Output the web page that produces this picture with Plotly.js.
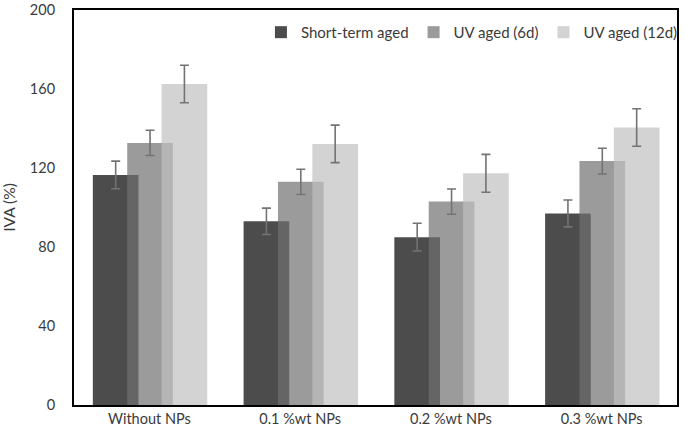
<!DOCTYPE html>
<html>
<head>
<meta charset="utf-8">
<script src="https://cdn.plot.ly/plotly-3.0.1.min.js"></script>
<style>html,body{margin:0;padding:0;background:#fff;}#chart{width:685px;height:433px;}</style>
</head>
<body>
<div id="chart"></div>
<script>
var categories = ["Without NPs", "0.1 %wt NPs", "0.2 %wt NPs", "0.3 %wt NPs"];
var seriesNames = ["Short-term aged", "UV aged (6d)", "UV aged (12d)"];
var shortTerm = [116.5, 93, 85, 97];
var shortTermErr = [7, 6.7, 7, 6.8];
var uv6 = [132.7, 113, 103, 123.5];
var uv6Err = [6.4, 6.4, 6.4, 6.5];
var uv12 = [162.5, 132.2, 117.3, 140.5];
var uv12Err = [9.5, 9.5, 9.6, 9.5];
var yTicks = [0, 40, 80, 120, 160, 200];

var colors = ["rgba(0,0,0,0.7)", "rgba(112,112,112,0.7)", "rgba(192,192,192,0.7)"];
var values = [shortTerm, uv6, uv12];
var errs = [shortTermErr, uv6Err, uv12Err];
var barWidth = 0.303;
var step = 0.228;
var start = -0.375;

var traces = values.map(function (v, i) {
  return {
    type: "bar",
    name: seriesNames[i],
    x: categories,
    y: v,
    width: barWidth,
    offset: start + i * step,
    marker: {color: colors[i], line: {width: 0}},
    error_y: {type: "data", array: errs[i], visible: true, color: "#737373", thickness: 1.6, width: 4.5}
  };
});

var font = "Lato, 'Open Sans', sans-serif";
var txt = "#3a3a3a";
var layout = {
  width: 685, height: 433,
  margin: {l: 74, r: 2, t: 10, b: 28},
  paper_bgcolor: "#fff", plot_bgcolor: "#fff",
  barmode: "overlay",
  font: {family: font, size: 15, color: txt},
  showlegend: true,
  legend: {orientation: "h", x: 0.31, xanchor: "left", y: 0.985, yanchor: "top",
           bgcolor: "rgba(0,0,0,0)", font: {family: font, size: 15, color: txt}},
  xaxis: {type: "category", range: [-0.5, 3.5], showline: true, mirror: true, linecolor: "#000", linewidth: 2,
          ticks: "", showgrid: false, zeroline: false, tickfont: {family: font, size: 14.5, color: txt}},
  yaxis: {range: [0, 200], tickvals: yTicks, showline: true, mirror: true, linecolor: "#000", linewidth: 2,
          ticks: "", showgrid: false, zeroline: false, ticklabelstandoff: 14, ticklabeloverflow: "allow",
          tickfont: {family: font, size: 14.5, color: txt},
          title: {text: "IVA (%)", font: {family: font, size: 15.5, color: txt}, standoff: 12}}
};

Plotly.newPlot("chart", traces, layout, {displayModeBar: false, staticPlot: true});
</script>
</body>
</html>
